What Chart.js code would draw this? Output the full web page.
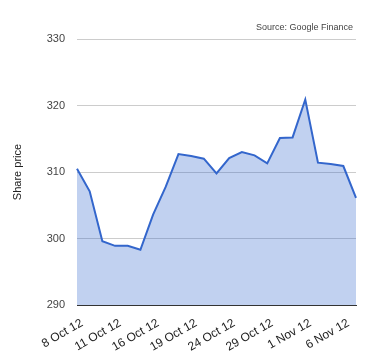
<!DOCTYPE html>
<html>
<head>
<meta charset="utf-8">
<script src="https://cdn.jsdelivr.net/npm/chart.js@4"></script>
<style>
  html, body { margin: 0; padding: 0; background: #fff; }
  #wrap { width: 380px; height: 360px; }
</style>
</head>
<body>
<div id="wrap"><canvas id="priceChart" width="380" height="360"></canvas></div>
<script>
// Trading days shown on the chart
const dates = [
    '8 Oct 12', '9 Oct 12', '10 Oct 12', '11 Oct 12', '12 Oct 12', '15 Oct 12',
    '16 Oct 12', '17 Oct 12', '18 Oct 12', '19 Oct 12', '22 Oct 12', '23 Oct 12',
    '24 Oct 12', '25 Oct 12', '26 Oct 12', '29 Oct 12', '30 Oct 12', '31 Oct 12',
    '1 Nov 12', '2 Nov 12', '5 Nov 12', '6 Nov 12', '7 Nov 12'
];

// Closing share price
const prices = [
    310.5, 307.1, 299.6, 298.9, 298.9, 298.3,
    303.6, 307.8, 312.7, 312.4, 312.0, 309.8,
    312.1, 313.0, 312.5, 311.3, 315.1, 315.2,
    320.9, 311.4, 311.2, 310.9, 306.1
];

// Only every third date gets a label
const labelEvery = 3;
const yTicks = [290, 300, 310, 320, 330];
const sourceText = 'Source: Google Finance';

// Draws the source note in the top right corner
const sourceNote = {
    id: 'sourceNote',
    afterDraw(chart) {
        const ctx = chart.ctx;
        ctx.save();
        ctx.font = '9px "Liberation Sans", Arial, sans-serif';
        ctx.fillStyle = '#444';
        ctx.textAlign = 'right';
        ctx.textBaseline = 'alphabetic';
        ctx.fillText(sourceText, chart.chartArea.right - 3, 30);
        ctx.restore();
    }
};

const ctx = document.getElementById('priceChart').getContext('2d');
const priceChart = new Chart(ctx, {
    type: 'line',
    data: {
        labels: dates,
        datasets: [{
            label: 'Share price',
            data: prices,
            borderColor: '#3366cc',
            borderWidth: 2,
            backgroundColor: 'rgba(51, 102, 204, 0.3)',
            fill: 'start',
            pointRadius: 0,
            tension: 0
        }]
    },
    options: {
        responsive: false,
        animation: false,
        layout: {
            padding: { top: 39, right: 24, left: 0, bottom: 0 }
        },
        plugins: {
            legend: { display: false },
            tooltip: { enabled: false }
        },
        scales: {
            x: {
                offset: false,
                grid: { display: false },
                border: { display: true, color: '#333', width: 1 },
                ticks: {
                    autoSkip: false,
                    maxRotation: 30,
                    minRotation: 30,
                    padding: 3,
                    labelOffset: 5,
                    color: '#222',
                    font: { family: '"Liberation Sans", Arial, sans-serif', size: 12 },
                    callback: function(value, index) {
                        return index % labelEvery === 0 ? dates[index] : '';
                    }
                },
                afterFit: function(scale) { scale.height = 55; }
            },
            y: {
                min: yTicks[0],
                max: yTicks[yTicks.length - 1],
                afterBuildTicks: function(scale) {
                    scale.ticks = yTicks.map(v => ({ value: v }));
                },
                grid: { color: '#cccccc', drawTicks: false },
                border: { display: false },
                ticks: {
                    padding: 12,
                    color: '#444',
                    font: { family: '"Liberation Sans", Arial, sans-serif', size: 11 }
                },
                title: {
                    display: true,
                    text: 'Share price',
                    color: '#222',
                    padding: { top: 11, bottom: 4 },
                    font: { family: '"Liberation Sans", Arial, sans-serif', size: 11 }
                },
                afterFit: function(scale) { scale.width = 77; }
            }
        }
    },
    plugins: [sourceNote]
});
</script>
</body>
</html>
